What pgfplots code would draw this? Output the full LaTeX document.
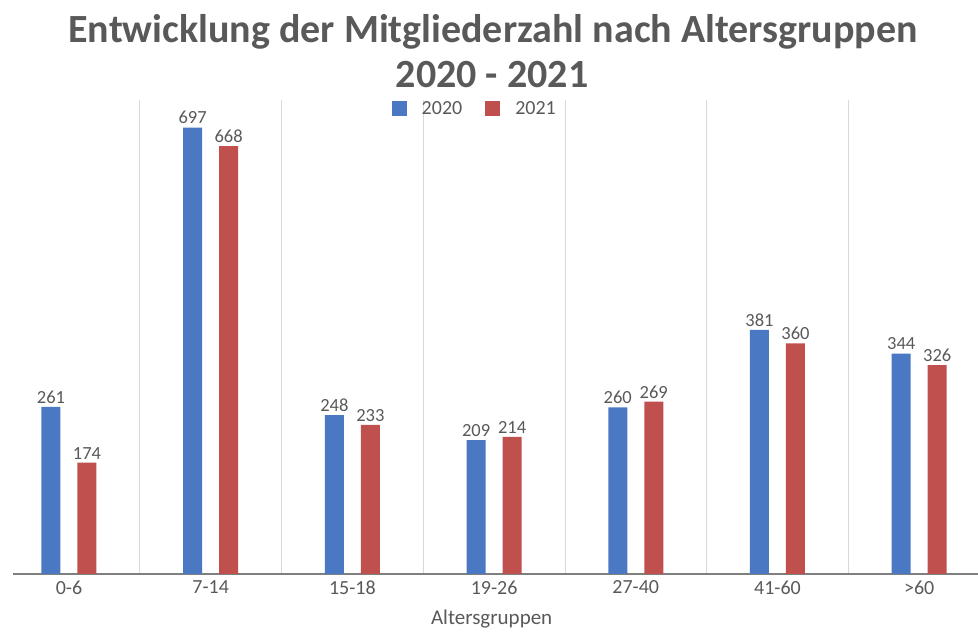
\documentclass[border=0pt]{standalone}
\usepackage{fontspec}
\setmainfont{Carlito}
\usepackage{pgfplots}
\pgfplotsset{compat=1.18}
\definecolor{barblue}{HTML}{4A78C2}
\definecolor{barred}{HTML}{C0504D}
\definecolor{txtgray}{HTML}{595959}
\definecolor{gridgray}{HTML}{D9D9D9}
\definecolor{axgray}{HTML}{7F7F7F}
\begin{document}
\begin{tikzpicture}
\useasboundingbox (0,0) rectangle (978pt,632pt);
\node[inner sep=0pt, font=\fontsize{40}{46}\selectfont\bfseries, text=txtgray] at (493pt,600pt) {Entwicklung der Mitgliederzahl nach Altersgruppen};
\node[inner sep=0pt, font=\fontsize{40}{46}\selectfont\bfseries, text=txtgray] at (492pt,557pt) {2020 - 2021};
\begin{axis}[
  at={(13pt,58pt)}, anchor=south west,
  scale only axis, width=965pt, height=474pt,
  xmin=-0.395, xmax=6.415, ymin=0, ymax=740,
  ybar=17pt, bar width=19pt,
  axis x line=bottom, axis y line=none,
  x axis line style={-, draw=axgray, line width=1.2pt},
  xtick={0,...,6},
  xticklabels={0-6,7-14,15-18,19-26,27-40,41-60,>60},
  major tick length=0pt, minor tick length=0pt,
  minor xtick={0.5,1.5,...,5.5},
  xminorgrids, minor grid style={draw=gridgray, line width=0.8pt},
  ticklabel style={font=\fontsize{20}{22}\selectfont, text=txtgray},
  xticklabel style={yshift=-3pt},
  xlabel={Altersgruppen},
  xlabel style={at={(rel axis cs:0.496,0)}, anchor=base, yshift=-51pt,
    font=\fontsize{21}{24}\selectfont, text=txtgray},
  /pgf/number format/assume math mode=true,
  nodes near coords,
  nodes near coords style={font=\fontsize{18.5}{20}\selectfont, text=txtgray},
  legend style={at={(0.478,0.982)}, anchor=center, draw=none, fill=none,
    font=\fontsize{20}{22}\selectfont, text=txtgray,
    nodes={inner sep=1pt},
    /tikz/every odd column/.append style={column sep=14pt},
    /tikz/every even column/.append style={column sep=22pt}},
  legend columns=2,
  legend image code/.code={\fill[#1] (0pt,-7.5pt) rectangle (15pt,7.5pt);},
  clip=false,
]
\addplot[fill=barblue, draw=none] coordinates {(0,261) (1,697) (2,248) (3,209) (4,260) (5,381) (6,344)};
\addplot[fill=barred, draw=none] coordinates {(0,174) (1,668) (2,233) (3,214) (4,269) (5,360) (6,326)};
\legend{2020,2021}
\end{axis}
\end{tikzpicture}
\end{document}
